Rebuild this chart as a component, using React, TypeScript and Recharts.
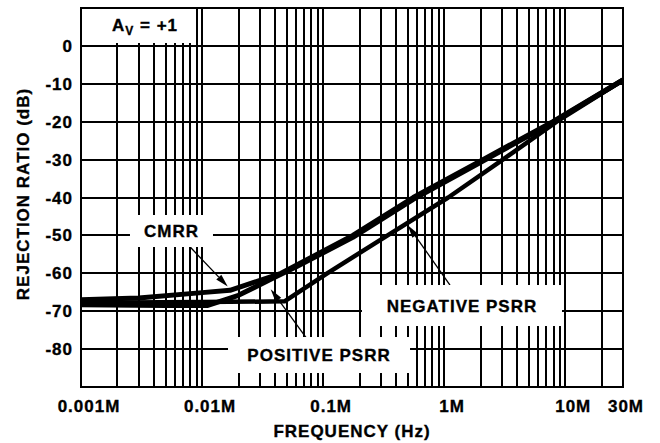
import React from 'react';
import {
  LineChart,
  Line,
  XAxis,
  YAxis,
  ReferenceArea,
  ReferenceDot,
  ReferenceLine,
} from 'recharts';

// ---- Data ----
const cmrrFreq = [1e3, 3e3, 1e4, 1.7e4, 4.5e4, 1.76e5, 5.55e5, 2.09e6, 7.9e6, 3e7];
const cmrrDb = [-67.0, -66.5, -65.1, -64.5, -60.0, -50.0, -40.0, -30.0, -20.0, -9.0];

const posFreq = [1e3, 5e3, 1.1e4, 2e4, 3.8e4, 6e4, 1.76e5, 5.55e5, 2.09e6, 7.9e6, 3e7];
const posDb = [-68.3, -68.5, -68.5, -65.8, -61.4, -58.3, -50.5, -40.5, -30.4, -20.2, -9.0];

const negFreq = [1e3, 1e4, 4.8e4, 1.08e5, 3.41e5, 1.08e6, 3.05e6, 8.5e6, 3e7];
const negDb = [-67.8, -67.6, -67.4, -60.0, -50.0, -40.0, -30.0, -20.0, -9.0];

const majorFreqs = [1e3, 1e4, 1e5, 1e6, 1e7, 3e7];
const majorLabels = ['0.001M', '0.01M', '0.1M', '1M', '10M', '30M'];
const decades = [1e3, 1e4, 1e5, 1e6, 1e7];
const multipliers = [1, 2, 3, 4, 5, 6, 7, 8, 9];
const dbTicks = [0, -10, -20, -30, -40, -50, -60, -70, -80];

const X_MIN = 1e3;
const X_MAX = 3e7;
const Y_MIN = -90;
const Y_MAX = 10;

const gridFreqs: number[] = [];
decades.forEach((d) => multipliers.forEach((m) => {
  const v = d * m;
  if (v <= X_MAX) gridFreqs.push(v);
}));

const toRows = (fs: number[], ds: number[]) => fs.map((f, i) => ({ f, db: ds[i] }));
const cmrrRows = toRows(cmrrFreq, cmrrDb);
const posRows = toRows(posFreq, posDb);
const negRows = toRows(negFreq, negDb);

// annotations (in data coordinates)
const boxes = [
  { key: 'av', f: 3.38e3, db: 5.25, w: 96, h: 34 },
  { key: 'cmrr', f: 5.59e3, db: -48.84, w: 83, h: 32, text: 'CMRR' },
  { key: 'pos', f: 9.25e4, db: -81.56, w: 182, h: 36, text: 'POSITIVE PSRR' },
  { key: 'neg', f: 1.403e6, db: -68.5, w: 200, h: 41, text: 'NEGATIVE PSRR' },
];
const arrows = [
  { key: 'a1', from: { x: 7.94e3, y: -53.0 }, to: { x: 1.63e4, y: -63.5 } },
  { key: 'a2', from: { x: 7.31e4, y: -77.15 }, to: { x: 3.69e4, y: -64.2 } },
  { key: 'a3', from: { x: 1.117e6, y: -63.1 }, to: { x: 5.0e5, y: -47.3 } },
];

const FONT = "'Liberation Sans', Arial, Helvetica, sans-serif";
const textStyle = {
  fontFamily: FONT,
  fontWeight: 700,
  fontSize: 17,
  letterSpacing: 1,
  fill: '#000',
  stroke: '#000',
  strokeWidth: 0.35,
} as const;

const XTick = (props: any) => {
  const { x, y, payload } = props;
  const idx = majorFreqs.indexOf(payload.value);
  if (idx < 0) return <g />;
  const dx = payload.value === X_MAX ? 3 : 8;
  return (
    <text x={x + dx} y={y + 25} textAnchor="middle" {...textStyle}>
      {majorLabels[idx]}
    </text>
  );
};

const YTick = (props: any) => {
  const { y, payload } = props;
  return (
    <text x={73} y={y + 6} textAnchor="end" {...textStyle}>
      {payload.value}
    </text>
  );
};

const crispLine = (props: any) => {
  const { x1, y1, x2, y2 } = props;
  return (
    <line
      x1={Math.round(x1)}
      y1={Math.round(y1)}
      x2={Math.round(x2)}
      y2={Math.round(y2)}
      stroke="#000"
      strokeWidth={2}
    />
  );
};

const makeBoxShape = (b: any) => (props: any) => {
  const { cx, cy } = props;
  return (
    <g>
      <rect x={cx - b.w / 2} y={cy - b.h / 2} width={b.w} height={b.h} fill="#fff" />
      {b.key === 'av' ? (
        <text x={cx} y={cy + 5} textAnchor="middle" {...textStyle}>
          <tspan>A</tspan>
          <tspan dy={4} fontSize={12}>V</tspan>
          <tspan dy={-4}> = +1</tspan>
        </text>
      ) : (
        <text x={cx} y={cy + 6} textAnchor="middle" {...textStyle}>
          {b.text}
        </text>
      )}
    </g>
  );
};

const arrowShape = (props: any) => {
  const { x1, y1, x2, y2 } = props;
  const dx = x2 - x1;
  const dy = y2 - y1;
  const len = Math.sqrt(dx * dx + dy * dy) || 1;
  const ux = dx / len;
  const uy = dy / len;
  const hl = 13;
  const hw = 3.5;
  const bx = x2 - ux * hl;
  const by = y2 - uy * hl;
  const p1 = `${x2},${y2}`;
  const p2 = `${bx - uy * hw},${by + ux * hw}`;
  const p3 = `${bx + uy * hw},${by - ux * hw}`;
  return (
    <g>
      <line x1={x1} y1={y1} x2={bx} y2={by} stroke="#000" strokeWidth={1.3} />
      <polygon points={`${p1} ${p2} ${p3}`} fill="#000" />
    </g>
  );
};

export default function App() {
  return (
    <div style={{ position: 'absolute', left: 0, top: 0, width: 660, height: 443, background: '#fff' }}>
      <LineChart
        width={660}
        height={443}
        margin={{ top: 8, right: 37, bottom: 0, left: 0 }}
      >
        <XAxis
          dataKey="f"
          type="number"
          scale="log"
          domain={[X_MIN, X_MAX]}
          allowDataOverflow
          ticks={majorFreqs}
          interval={0}
          tick={<XTick />}
          tickLine={false}
          axisLine={false}
          tickSize={0}
          tickMargin={0}
          height={56}
          label={() => (
            <text x={352} y={437} textAnchor="middle" {...textStyle}>
              FREQUENCY (Hz)
            </text>
          )}
        />
        <YAxis
          type="number"
          domain={[Y_MIN, Y_MAX]}
          allowDataOverflow
          ticks={dbTicks}
          interval={0}
          tick={<YTick />}
          tickLine={false}
          axisLine={false}
          tickSize={0}
          width={81}
          label={() => (
            <text
              x={29}
              y={194}
              transform="rotate(-90, 29, 194)"
              textAnchor="middle"
              {...textStyle}
            >
              REJECTION RATIO (dB)
            </text>
          )}
        />
        {gridFreqs.map((f) => (
          <ReferenceLine key={'vx' + f} x={f} ifOverflow="visible" shape={crispLine} />
        ))}
        {dbTicks.map((d) => (
          <ReferenceLine key={'hy' + d} y={d} ifOverflow="visible" shape={crispLine} />
        ))}
        {boxes.map((b) => (
          <ReferenceDot
            key={b.key}
            x={b.f}
            y={b.db}
            r={1}
            shape={makeBoxShape(b)}
          />
        ))}
        <ReferenceArea
          x1={X_MIN}
          x2={X_MAX}
          y1={Y_MIN}
          y2={Y_MAX}
          fill="none"
          fillOpacity={0}
          stroke="#000"
          strokeWidth={2}
        />
        <Line data={negRows} dataKey="db" type="linear" stroke="#000" strokeWidth={4.5} dot={false} isAnimationActive={false} strokeLinejoin="round" />
        <Line data={posRows} dataKey="db" type="linear" stroke="#000" strokeWidth={5} dot={false} isAnimationActive={false} strokeLinejoin="round" />
        <Line data={cmrrRows} dataKey="db" type="linear" stroke="#000" strokeWidth={5} dot={false} isAnimationActive={false} strokeLinejoin="round" />
        {arrows.map((a) => (
          <ReferenceLine
            key={a.key}
            segment={[a.from, a.to]}
            stroke="#000"
            ifOverflow="visible"
            shape={arrowShape}
          />
        ))}
      </LineChart>
    </div>
  );
}
